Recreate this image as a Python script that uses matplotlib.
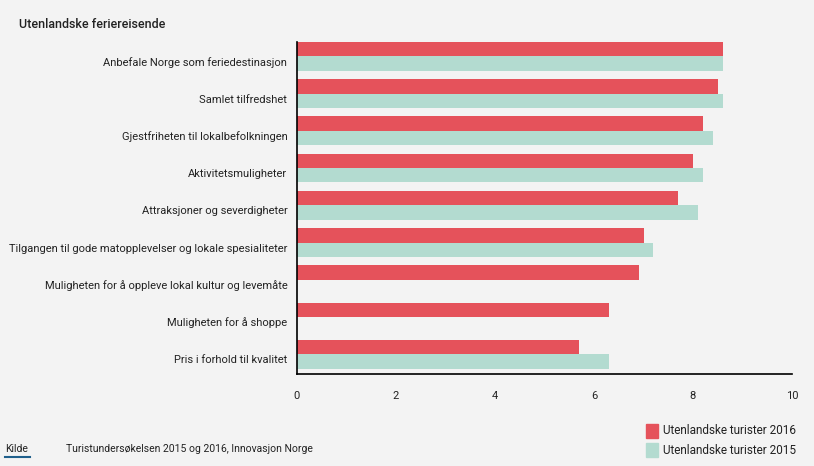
import numpy as np
import matplotlib.pyplot as plt
import matplotlib.transforms as mtransforms
from matplotlib.patches import Rectangle

plt.rcParams['font.family'] = ['Roboto', 'DejaVu Sans']

categories = [
    'Anbefale Norge som feriedestinasjon',
    'Samlet tilfredshet',
    'Gjestfriheten til lokalbefolkningen',
    'Aktivitetsmuligheter',
    'Attraksjoner og severdigheter',
    'Tilgangen til gode matopplevelser og lokale spesialiteter',
    'Muligheten for å oppleve lokal kultur og levemåte',
    'Muligheten for å shoppe',
    'Pris i forhold til kvalitet',
]
values_2016 = [8.6, 8.5, 8.2, 8.0, 7.7, 7.0, 6.9, 6.3, 5.7]
values_2015 = [8.6, 8.6, 8.4, 8.2, 8.1, 7.2, np.nan, np.nan, 6.3]
series_names = ['Utenlandske turister 2016', 'Utenlandske turister 2015']
colors = ['#e5525b', '#b3dbd0']
bg = '#f3f3f3'

fig = plt.figure(figsize=(8.14, 4.66), dpi=100, facecolor=bg)
ax = fig.add_axes([297 / 814, 1 - 374 / 466, 495 / 814, 332 / 466], facecolor=bg)

y = np.arange(len(categories))
h = 0.385
ax.barh(y - h / 2, values_2016, height=h, color=colors[0])
ax.barh(y + h / 2, np.nan_to_num(values_2015), height=h, color=colors[1])

ax.set_ylim(len(categories) - 1 + 0.53, -0.385)
ax.set_xlim(0, 10)
ax.set_xticks([0, 2, 4, 6, 8, 10])
ax.set_yticks(y)
ax.set_yticklabels(categories, fontsize=8)
ax.tick_params(axis='both', length=0, colors='#222222')
ax.tick_params(axis='x', pad=12, labelsize=8)
ax.tick_params(axis='y', pad=7)
# labels sit a little below the pair centre in the original
shift = mtransforms.ScaledTranslation(0, -5 / 100, fig.dpi_scale_trans)
for lab in ax.get_yticklabels():
    lab.set_transform(lab.get_transform() + shift)
for s in ['top', 'right']:
    ax.spines[s].set_visible(False)
for s in ['left', 'bottom']:
    ax.spines[s].set_color('black')
    ax.spines[s].set_linewidth(1.2)

fig.text(19 / 814, 1 - 24 / 466, 'Utenlandske feriereisende', fontsize=9,
         va='center', ha='left', color='#222222', fontweight='medium')

# footer
fig.text(5 / 814, 1 - 449 / 466, 'Kilde', fontsize=7.5, va='center', color='#222222')
fig.add_artist(plt.Line2D([5 / 814, 30 / 814], [1 - 457 / 466, 1 - 457 / 466],
                          color='#1f5f8b', lw=1.5))
fig.text(66 / 814, 1 - 449 / 466, 'Turistundersøkelsen 2015 og 2016, Innovasjon Norge',
         fontsize=7.5, va='center', color='#222222')

# legend
for i, (name, c) in enumerate(zip(series_names, colors)):
    yc = 1 - (431 + i * 19) / 466
    fig.add_artist(Rectangle((646 / 814, yc - 7 / 466), 12 / 814, 14 / 466,
                             transform=fig.transFigure, color=c))
    fig.text(663 / 814, yc, name, fontsize=8.5, va='center', color='#222222')

fig.savefig('out.png', dpi=100, facecolor=bg)
